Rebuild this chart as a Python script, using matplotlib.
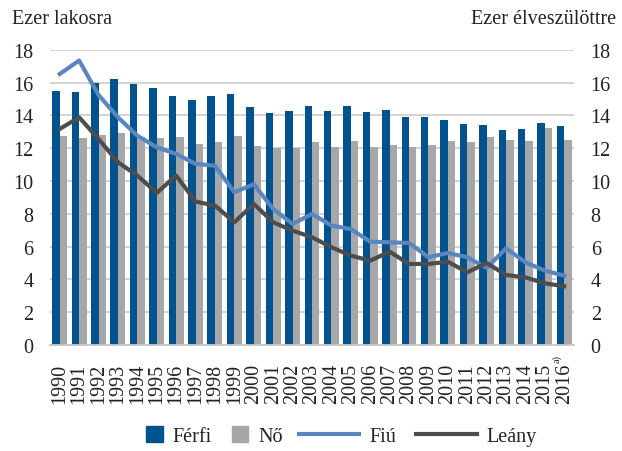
import numpy as np
import matplotlib.pyplot as plt
from matplotlib.patches import Patch
from matplotlib.lines import Line2D

plt.rcParams['font.family'] = ['Liberation Serif', 'DejaVu Serif']

years = [str(y) for y in range(1990, 2017)]
ferfi = [15.47, 15.43, 16.0, 16.22, 15.91, 15.67, 15.18, 14.92, 15.18, 15.32,
         14.51, 14.13, 14.27, 14.55, 14.27, 14.57, 14.19, 14.33, 13.90, 13.92,
         13.72, 13.48, 13.44, 13.13, 13.19, 13.54, 13.35]
no = [12.74, 12.64, 12.80, 12.93, 12.7, 12.64, 12.68, 12.26, 12.38, 12.74,
      12.13, 12.01, 12.03, 12.38, 12.07, 12.44, 12.07, 12.19, 12.07, 12.19,
      12.44, 12.38, 12.68, 12.50, 12.44, 13.23, 12.50]
fiu = [16.52, 17.34, 15.24, 13.88, 12.76, 12.05, 11.65, 11.04, 10.93, 9.31,
       9.8, 8.29, 7.38, 7.99, 7.28, 7.07, 6.3, 6.26, 6.22, 5.35,
       5.61, 5.35, 4.70, 5.89, 5.04, 4.53, 4.23]
leany = [13.17, 13.88, 12.56, 11.14, 10.33, 9.27, 10.33, 8.74, 8.5, 7.48,
         8.6, 7.48, 6.97, 6.57, 5.96, 5.45, 5.14, 5.69, 4.94, 4.94,
         5.08, 4.43, 5.0, 4.27, 4.12, 3.76, 3.58]

c_ferfi = '#00538F'
c_no = '#A7A7AA'
c_fiu = '#5A86C0'
c_leany = '#4D4D4D'
txt = '#222222'
fs = 14.5

fig = plt.figure(figsize=(6.22, 4.52), dpi=100)
ax = fig.add_axes([0.0804, 0.2345, 0.8424, 0.6533])
x = np.arange(len(years))
w = 0.385

ax.bar(x - w / 2, ferfi, w, color=c_ferfi, zorder=2)
ax.bar(x + w / 2, no, w, color=c_no, zorder=2)
ax.set_xlim(-0.5, len(years) - 0.5)
ax.set_ylim(0, 18)
ax.set_yticks(range(0, 19, 2))
ax.yaxis.grid(True, color='#D0D0D0', linewidth=1.3, zorder=0)
ax.set_axisbelow(True)
for s in ['top', 'right', 'left']:
    ax.spines[s].set_visible(False)
ax.spines['bottom'].set_color('#C8C8C8')
ax.spines['bottom'].set_linewidth(1.3)
ax.set_xticks(x)
ax.set_xticklabels(years, rotation=90, fontsize=fs, color=txt)
ax.tick_params(axis='x', length=0, pad=13)
ax.tick_params(axis='y', length=0, pad=12, labelsize=fs, labelcolor=txt)

ax2 = ax.twinx()
ax2.plot(x, fiu, color=c_fiu, linewidth=3)
ax2.plot(x, leany, color=c_leany, linewidth=3)
ax2.set_ylim(0, 18)
ax2.set_yticks(range(0, 19, 2))
for s in ax2.spines.values():
    s.set_visible(False)
ax2.tick_params(axis='y', length=0, pad=12, labelsize=fs, labelcolor=txt)

# footnote marker on the last year
ax.text(len(years) - 1 - 0.36, -0.03, 'a)', rotation=90, fontsize=7.5,
        color=txt, ha='center', va='top',
        transform=ax.get_xaxis_transform())

fig.text(0.019, 0.935, 'Ezer lakosra', fontsize=fs, color=txt, va='bottom')
fig.text(0.99, 0.935, 'Ezer élveszülöttre', fontsize=fs, color=txt,
         va='bottom', ha='right')

h_bars = [Patch(color=c_ferfi, label='Férfi'), Patch(color=c_no, label='Nő')]
h_lines = [Line2D([], [], color=c_fiu, lw=3, label='Fiú'),
           Line2D([], [], color=c_leany, lw=3, label='Leány')]
leg1 = fig.legend(handles=h_bars, loc='center', bbox_to_anchor=(0.345, 0.033),
                  ncol=2, frameon=False, fontsize=fs, handlelength=0.8,
                  handleheight=0.8, handletextpad=0.5, columnspacing=1.0)
for t in leg1.get_texts():
    t.set_color(txt)
leg2 = fig.legend(handles=h_lines, loc='center', bbox_to_anchor=(0.672, 0.033),
                  ncol=2, frameon=False, fontsize=fs, handlelength=3.0,
                  handletextpad=0.5, columnspacing=1.0)
for t in leg2.get_texts():
    t.set_color(txt)

fig.savefig('out.png', dpi=100)
